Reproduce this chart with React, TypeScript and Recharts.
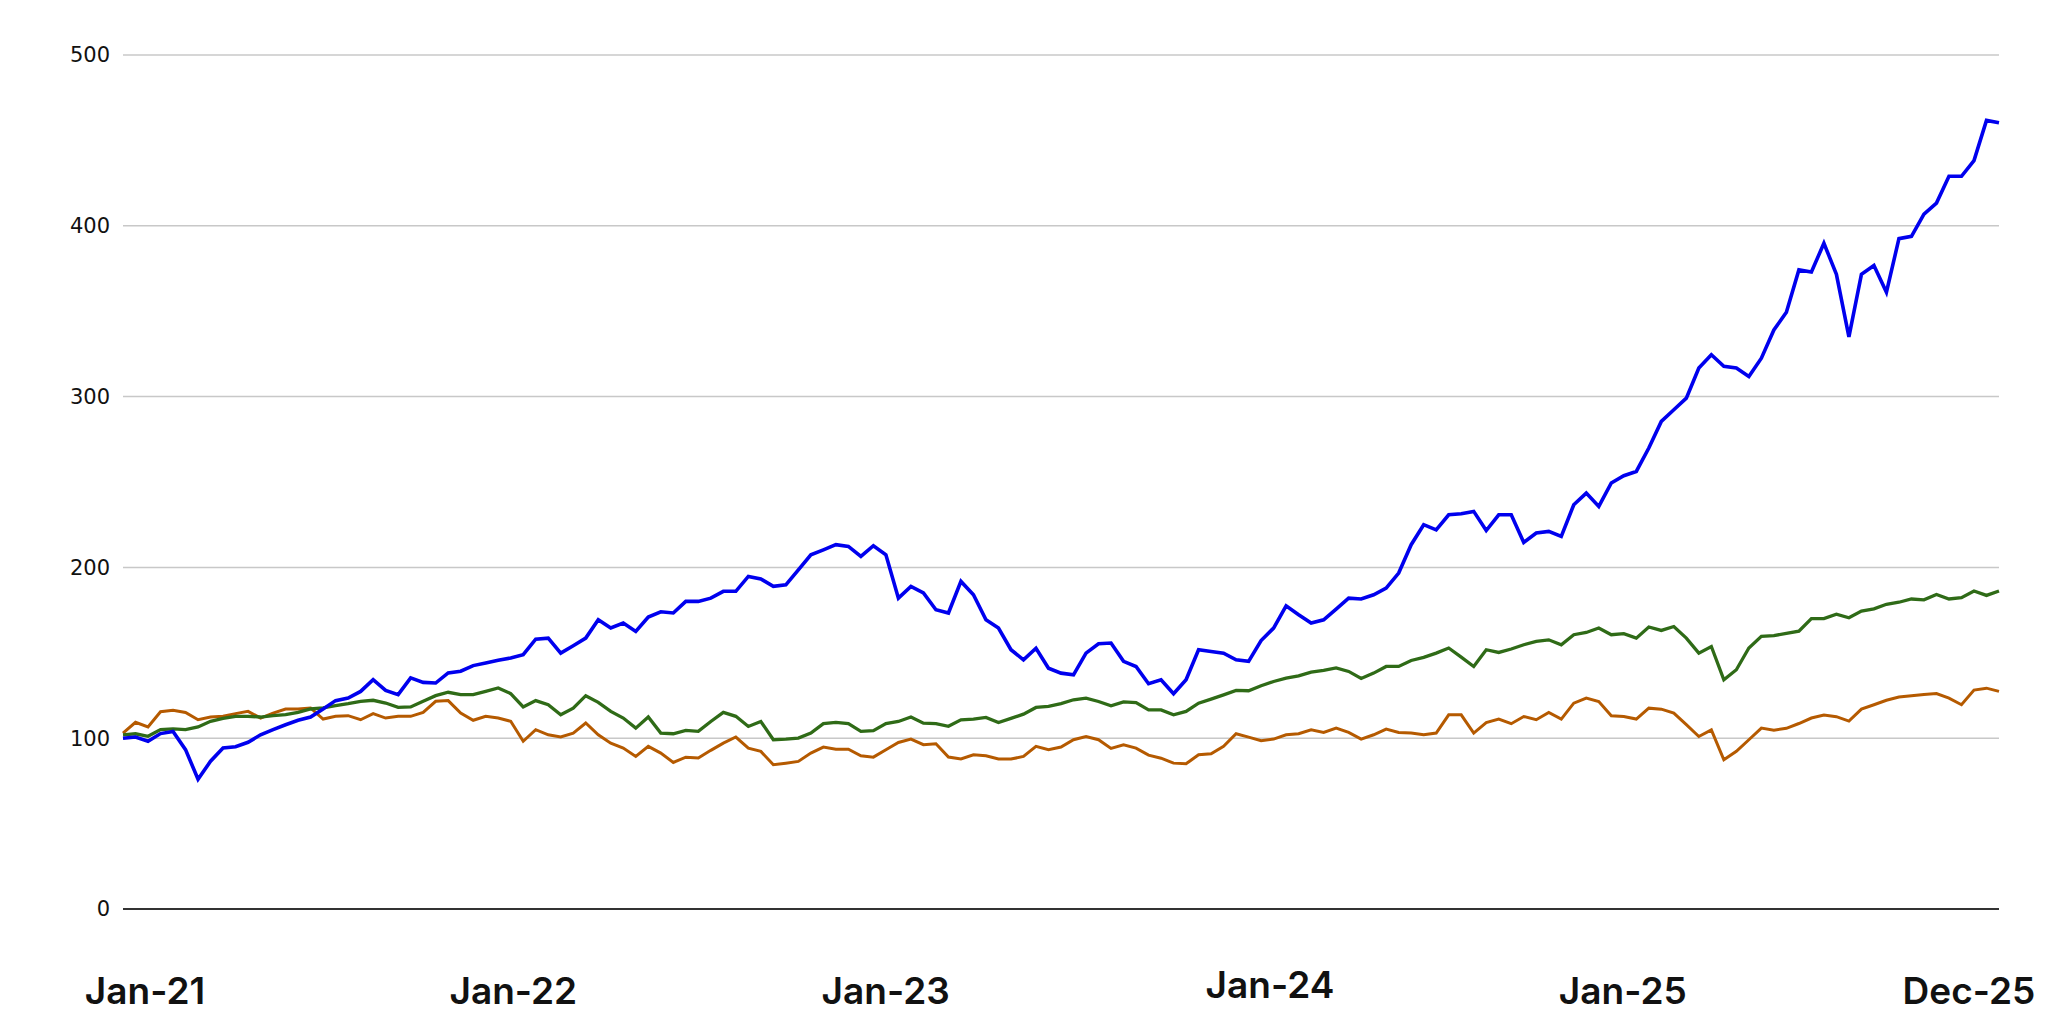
import React from "react";
import { LineChart, Line, XAxis, YAxis, CartesianGrid } from "recharts";

// one point roughly every 12 days, Jan 2021 .. Dec 2025 (151 points)
const portfolio = [
  100, 100.7, 98.2, 102.7, 104, 93.3, 76, 86.5, 94.3, 95, 97.6, 102, 105, 107.9, 110.5, 112.4,
  117.1, 122, 123.5, 127.4, 134.3, 128, 125.5, 135.3, 132.7, 132.3, 138.2, 139.2, 142.5, 144, 145.6,
  147, 148.9, 158, 158.6, 149.8, 154.1, 158.6, 169.4, 164.5, 167.4, 162.5, 170.9, 174, 173.3, 180.1,
  180.1, 182, 186, 186, 194.7, 193.2, 188.9, 189.8, 198.6, 207.4, 210.3, 213.3, 212.3, 206.4, 212.7,
  207.4, 182, 188.9, 185, 175.2, 173.3, 191.8, 184, 169.3, 164.5, 151.8, 145.9, 152.7, 141, 138.1,
  137.1, 149.8, 155.3, 155.7, 145, 142, 131.9, 134.2, 126, 134.2, 151.8, 150.8, 149.8, 145.9, 145,
  157.2, 164.5, 177.5, 172.3, 167.4, 169.3, 175.6, 182, 181.5, 184, 187.9, 196.7, 213.3, 225, 222,
  230.8, 231.4, 232.8, 221.6, 230.8, 230.8, 214.6, 220.1, 221.1, 218.1, 236.7, 243.5, 235.7, 249.4,
  253.7, 256.2, 269.9, 285.5, 292.3, 299.1, 316.7, 324.5, 317.7, 316.7, 311.8, 322.5, 339, 349.4,
  374.2, 372.9, 389.8, 371.6, 335, 371.6, 376.8, 361.1, 392.5, 393.8, 406.8, 413.3, 429, 429, 438.2,
  461.7, 460.3,
];

const benchmark = [
  102, 102.6, 101.1, 105, 105.4, 105, 106.6, 109.9, 111.6, 112.8, 112.8, 112.4, 113.2, 113.8, 115.1,
  117.1, 117.7, 119, 120.2, 121.6, 122.2, 120.6, 118.1, 118.3, 121.6, 124.9, 126.9, 125.5, 125.5,
  127.4, 129.4, 126.1, 118.3, 122, 119.6, 113.7, 117.6, 124.9, 121, 115.7, 111.8, 105.9, 112.4, 103,
  102.6, 104.6, 104, 109.8, 115.1, 112.8, 106.9, 109.8, 99.1, 99.5, 100.1, 103, 108.5, 109.3, 108.5,
  104, 104.4, 108.5, 109.8, 112.4, 108.8, 108.5, 107, 110.8, 111.2, 112.2, 109.2, 111.6, 114.1, 118,
  118.6, 120.2, 122.5, 123.5, 121.5, 119, 121.3, 120.9, 116.6, 116.6, 113.7, 115.7, 120.5, 122.9,
  125.4, 128, 127.8, 130.7, 133.2, 135.2, 136.5, 138.7, 139.7, 141.2, 139.1, 135, 138.1, 142, 142,
  145.5, 147.3, 149.8, 152.8, 147.5, 142, 151.8, 150.2, 152.2, 154.7, 156.7, 157.6, 154.7, 160.6,
  161.9, 164.5, 160.6, 161.2, 158.6, 165.1, 163.1, 165.4, 158.6, 149.8, 153.7, 134.2, 140.1, 152.8,
  159.6, 160, 161.4, 162.7, 170, 170, 172.6, 170.5, 174.4, 175.7, 178.4, 179.6, 181.5, 181, 184.1,
  181.5, 182.3, 186.2, 183.6, 186.2,
];

const peers = [
  103, 109.3, 106.6, 115.5, 116.3, 115.1, 110.8, 112.4, 112.8, 114.4, 115.7, 111.8, 114.7, 117.1,
  117.1, 117.7, 111.2, 112.8, 113.2, 110.8, 114.4, 111.8, 112.8, 112.8, 115.1, 121.6, 122, 114.7,
  110.5, 112.8, 111.8, 109.9, 98.2, 105, 102, 100.7, 103, 108.9, 102, 97.1, 94.2, 89.3, 95.2, 91.3,
  85.8, 88.9, 88.4, 92.9, 97.1, 100.7, 94.2, 92.3, 84.5, 85.4, 86.4, 91.3, 94.8, 93.6, 93.6, 89.7,
  88.9, 93.2, 97.5, 99.5, 96.2, 96.7, 89, 87.8, 90.3, 89.7, 87.8, 87.8, 89.3, 95.2, 93.2, 94.8, 99.1,
  101, 99.1, 94, 96.1, 94.2, 90.1, 88.3, 85.4, 85, 90.3, 90.9, 95.2, 102.6, 100.6, 98.5, 99.5, 102,
  102.6, 104.9, 103.4, 105.9, 103.4, 99.5, 102, 105.3, 103.4, 103, 102, 103, 113.7, 113.7, 103,
  109.2, 111.2, 108.5, 112.7, 110.8, 115.1, 111.2, 120.5, 123.5, 121.5, 113.1, 112.7, 111.2, 117.6,
  117, 114.7, 107.9, 101, 104.9, 87.4, 92.3, 99.1, 105.9, 104.7, 105.8, 108.6, 111.8, 113.6, 112.6,
  110, 117, 119.6, 122.2, 124.1, 124.8, 125.6, 126.1, 123.5, 119.6, 128.2, 129.3, 127.4,
];

const xTicks = [0, 30.25, 60.5, 90.75, 121, 150];
const xLabels = ["Jan-21", "Jan-22", "Jan-23", "Jan-24", "Jan-25", "Dec-25"];
const yTicks = [0, 100, 200, 300, 400, 500];

const data = portfolio.map((v, i) => ({
  t: i,
  portfolio: v,
  benchmark: benchmark[i],
  peers: peers[i],
}));

// the labels in the original sit a bit off the real dates
const labelNudge: Record<string, { dx: number; dy: number }> = {
  "Jan-21": { dx: 22, dy: 95 },
  "Jan-22": { dx: 12, dy: 95 },
  "Jan-23": { dx: 6, dy: 95 },
  "Jan-24": { dx: 12, dy: 89 },
  "Jan-25": { dx: -13.5, dy: 95 },
  "Dec-25": { dx: -30, dy: 95 },
};

const DateTick = (props: any) => {
  const { x, y, payload } = props;
  const idx = xTicks.indexOf(payload.value);
  const label = xLabels[idx] ?? "";
  const n = labelNudge[label] || { dx: 0, dy: 95 };
  return (
    <text
      x={x + n.dx}
      y={y + n.dy}
      textAnchor="middle"
      fontFamily="Inter, sans-serif"
      fontWeight={600}
      fontSize={37}
      fill="#111"
    >
      {label}
    </text>
  );
};

export default function App() {
  return (
    <div style={{ width: 2040, height: 1004, fontFamily: "'DejaVu Sans', sans-serif" }}>
      <LineChart width={2040} height={1004} data={data} margin={{ top: 47, right: 49, left: 0, bottom: 0 }}>
        <CartesianGrid vertical={false} stroke="#c8c8c8" strokeWidth={1.5} />
        <XAxis
          dataKey="t"
          type="number"
          domain={[0, 150]}
          ticks={xTicks}
          interval={0}
          height={103}
          tickSize={0}
          tickMargin={0}
          tickLine={false}
          axisLine={{ stroke: "#333", strokeWidth: 2 }}
          tick={<DateTick />}
        />
        <YAxis
          domain={[0, 500]}
          ticks={yTicks}
          width={115}
          axisLine={false}
          tickLine={false}
          tickSize={0}
          tickMargin={13}
          tick={{ fontFamily: "'DejaVu Sans', sans-serif", fontSize: 21, fill: "#111" }}
        />
        <Line type="linear" dataKey="peers" stroke="#b55a00" strokeWidth={3} dot={false} isAnimationActive={false} />
        <Line type="linear" dataKey="benchmark" stroke="#2f6b17" strokeWidth={3.3} dot={false} isAnimationActive={false} />
        <Line type="linear" dataKey="portfolio" stroke="#0000ee" strokeWidth={3.6} dot={false} isAnimationActive={false} />
      </LineChart>
    </div>
  );
}
